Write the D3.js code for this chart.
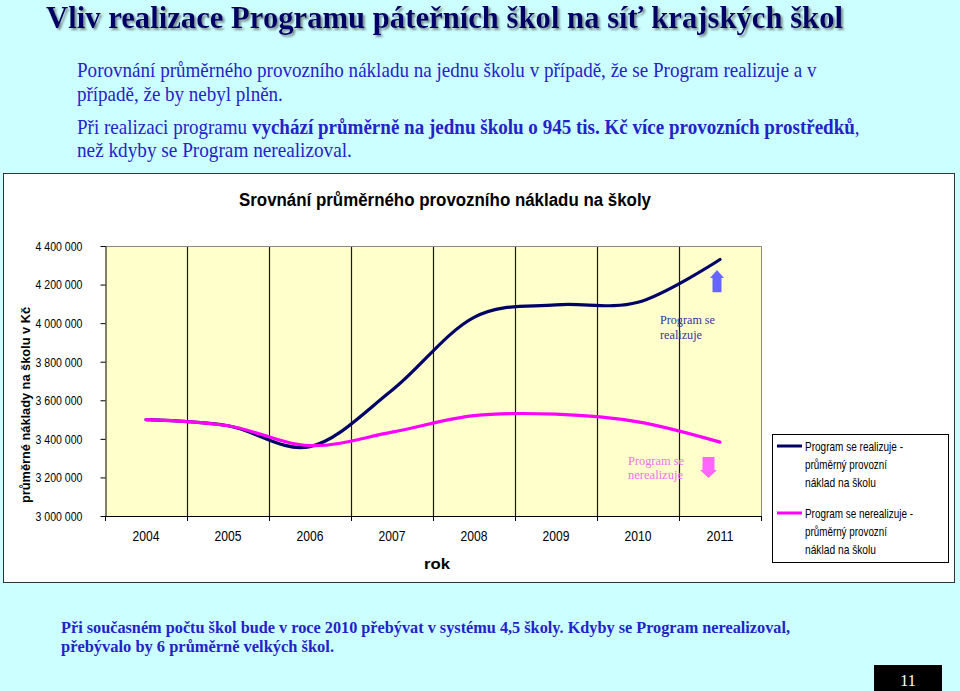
<!DOCTYPE html>
<html><head><meta charset="utf-8">
<script src="https://cdn.jsdelivr.net/npm/d3@7"></script>
<style>body{margin:0;background:#CCFFFF;} svg{display:block}</style>
</head><body><svg id="c" width="960" height="691"></svg>
<script>
// ---- data ----
const years = ["2004", "2005", "2006", "2007", "2008", "2009", "2010", "2011"];
const realizuje = [3500000, 3468000, 3360000, 3652000, 4030000, 4095000, 4108000, 4330000];
const nerealizuje = [3500000, 3468000, 3365000, 3435000, 3520000, 3528000, 3488000, 3383000];
const yTicks = [3000000, 3200000, 3400000, 3600000, 3800000, 4000000, 4200000, 4400000];
const legendLines = [
  ["Program se realizuje -", "průměrný provozní", "náklad na školu"],
  ["Program se nerealizuje -", "průměrný provozní", "náklad na školu"]
];
const seriesColors = ["#000066", "#FF00FF"];

const svg = d3.select("#c");
const defs = svg.append("defs");
const f = defs.append("filter").attr("id", "shadow").attr("x", "-5%").attr("y", "-30%").attr("width", "110%").attr("height", "160%");
f.append("feDropShadow").attr("dx", 2).attr("dy", 2).attr("stdDeviation", 0.8).attr("flood-color", "#6f8085").attr("flood-opacity", 0.9);

svg.append("rect").attr("width", 960).attr("height", 691).attr("fill", "#CCFFFF");

const serif = "'Liberation Serif', 'Times New Roman', serif";
const sans = "'Liberation Sans', Arial, sans-serif";

// ---- slide title ----
svg.append("text").attr("x", 46).attr("y", 28)
  .attr("font-family", serif).attr("font-weight", "bold").attr("font-size", 31).attr("fill", "#000066")
  .attr("textLength", 797).attr("lengthAdjust", "spacingAndGlyphs").attr("filter", "url(#shadow)")
  .text("Vliv realizace Programu páteřních škol na síť krajských škol");

// ---- paragraphs (fitted horizontally with a scale transform) ----
const pCol = "#2323C8";
function para(x, y, w, parts, size, weight) {
  const t = svg.append("text").attr("x", 0).attr("y", 0)
    .attr("font-family", serif).attr("font-size", size).attr("fill", pCol)
    .attr("font-weight", weight || "normal");
  parts.forEach(p => t.append("tspan").attr("font-weight", p[1] ? "bold" : null).text(p[0]));
  const nat = t.node().getComputedTextLength();
  t.attr("transform", `translate(${x},${y}) scale(${w / nat},1)`);
}
para(77, 77, 740, [["Porovnání průměrného provozního nákladu na jednu školu v případě, že se Program realizuje a v", 0]], 20);
para(77, 101, 206, [["případě, že by nebyl plněn.", 0]], 20);
para(77, 134, 783, [["Při realizaci programu ", 0], ["vychází průměrně na jednu školu o 945 tis. Kč více provozních prostředků", 1], [",", 0]], 20);
para(77, 157, 275, [["než kdyby se Program nerealizoval.", 0]], 20);

// ---- chart box ----
svg.append("rect").attr("x", 3.5).attr("y", 173.5).attr("width", 951).attr("height", 409)
  .attr("fill", "#ffffff").attr("stroke", "#333").attr("stroke-width", 1);

svg.append("text").attr("x", 239).attr("y", 206)
  .attr("font-family", sans).attr("font-weight", "bold").attr("font-size", 18)
  .attr("fill", "#000").attr("textLength", 412).attr("lengthAdjust", "spacingAndGlyphs")
  .text("Srovnání průměrného provozního nákladu na školy");

// ---- scales ----
const L = 105, R = 761, T = 246, B = 516;
const x = d3.scaleBand().domain(years).range([L, R]);
const y = d3.scaleLinear().domain([3000000, 4400000]).range([B, T]);

// plot area
svg.append("rect").attr("x", L).attr("y", T).attr("width", R - L).attr("height", B - T).attr("fill", "#FFFFCC");

// vertical gridlines at category boundaries
const bounds = years.map(d => x(d)).concat([R]);
svg.append("g").selectAll("line").data(bounds.slice(1, -1)).join("line")
  .attr("x1", d => d + 0.5).attr("x2", d => d + 0.5).attr("y1", T).attr("y2", B)
  .attr("stroke", "#1a1a1a").attr("stroke-width", 1.2);
// plot top & right border
svg.append("line").attr("x1", L).attr("x2", R).attr("y1", T + 0.5).attr("y2", T + 0.5).attr("stroke", "#888");
svg.append("line").attr("x1", R + 0.5).attr("x2", R + 0.5).attr("y1", T).attr("y2", B).attr("stroke", "#888");

// y axis
const yAxis = svg.append("g").attr("transform", `translate(${L + 0.5},0)`)
  .call(d3.axisLeft(y).tickValues(yTicks).tickSizeInner(5).tickSizeOuter(0).tickPadding(18)
    .tickFormat(d => d3.format(",")(d).replace(/,/g, " ")));
yAxis.select(".domain").attr("stroke", "#000");
yAxis.selectAll(".tick line").attr("stroke", "#000");
yAxis.selectAll("text").attr("font-family", sans).attr("font-size", 13.5).attr("fill", "#000")
  .attr("textLength", 47).attr("lengthAdjust", "spacingAndGlyphs");

// x axis
const xAxis = svg.append("g").attr("transform", `translate(0,${B + 0.5})`)
  .call(d3.axisBottom(x).tickSizeInner(0).tickSizeOuter(0).tickPadding(15));
xAxis.select(".domain").attr("stroke", "#000").attr("d", `M${L},0H${R}`);
xAxis.selectAll("text").attr("font-family", sans).attr("font-size", 14).attr("fill", "#000")
  .attr("textLength", 27).attr("lengthAdjust", "spacingAndGlyphs");
svg.append("g").selectAll("line").data(bounds).join("line")
  .attr("x1", d => d + 0.5).attr("x2", d => d + 0.5).attr("y1", B).attr("y2", B + 5)
  .attr("stroke", "#000");

// axis titles
svg.append("text").attr("transform", "translate(30,405) rotate(-90)").attr("text-anchor", "middle")
  .attr("font-family", sans).attr("font-weight", "bold").attr("font-size", 13.5)
  .attr("textLength", 196).attr("lengthAdjust", "spacingAndGlyphs")
  .text("průměrné náklady na školu v Kč");
svg.append("text").attr("x", 437).attr("y", 569).attr("text-anchor", "middle")
  .attr("font-family", sans).attr("font-weight", "bold").attr("font-size", 15)
  .attr("textLength", 26).attr("lengthAdjust", "spacingAndGlyphs")
  .text("rok");

// lines
const line = d3.line().x((d, i) => x(years[i]) + x.bandwidth() / 2).y(d => y(d))
  .curve(d3.curveCardinal.tension(0));
[realizuje, nerealizuje].forEach((s, i) => {
  svg.append("path").attr("d", line(s)).attr("fill", "none")
    .attr("stroke", seriesColors[i]).attr("stroke-width", 3.2)
    .attr("stroke-linejoin", "round").attr("stroke-linecap", "round");
});

// annotations
const cx11 = x("2011") + x.bandwidth() / 2;
// up arrow
{
  const ax = cx11 - 3, top = y(4275000), bot = y(4160000);
  svg.append("path").attr("fill", "#6666FF")
    .attr("d", `M${ax},${top} L${ax + 7},${top + 8} L${ax + 4.5},${top + 8} L${ax + 4.5},${bot} L${ax - 4.5},${bot} L${ax - 4.5},${top + 8} L${ax - 7},${top + 8} Z`);
}
// down arrow
{
  const ax = cx11 - 11.5, top = y(3306000), bot = y(3197000);
  svg.append("path").attr("fill", "#FF66FF")
    .attr("d", `M${ax - 6},${top} L${ax + 6},${top} L${ax + 6},${bot - 8} L${ax + 8.5},${bot - 8} L${ax},${bot} L${ax - 8.5},${bot - 8} L${ax - 6},${bot - 8} Z`);
}
function ann(xp, yp, w, txt, col) {
  svg.append("text").attr("x", xp).attr("y", yp).attr("font-family", serif).attr("font-size", 13)
    .attr("fill", col).attr("textLength", w).attr("lengthAdjust", "spacingAndGlyphs").text(txt);
}
ann(cx11 - 60, 324, 55, "Program se", "#33339A");
ann(cx11 - 60, 339, 42, "realizuje", "#33339A");
ann(cx11 - 92, 465, 56, "Program se", "#F070F0");
ann(cx11 - 92, 479, 55, "nerealizuje", "#F070F0");

// legend
svg.append("rect").attr("x", 772.5).attr("y", 434.5).attr("width", 176).attr("height", 128)
  .attr("fill", "#fff").attr("stroke", "#000");
const legW = [[98, 82, 71], [108, 82, 71]];
const legY = [446, 513];
legendLines.forEach((lines, i) => {
  svg.append("line").attr("x1", 777).attr("x2", 802).attr("y1", legY[i]).attr("y2", legY[i])
    .attr("stroke", seriesColors[i]).attr("stroke-width", 3);
  lines.forEach((t, j) => {
    svg.append("text").attr("x", 805).attr("y", legY[i] + 4.5 + j * 18)
      .attr("font-family", sans).attr("font-size", 13).attr("fill", "#000")
      .attr("textLength", legW[i][j]).attr("lengthAdjust", "spacingAndGlyphs").text(t);
  });
});

// bottom text
svg.append("text").attr("x", 61).attr("y", 633).attr("font-family", serif).attr("font-weight", "bold")
  .attr("font-size", 17).attr("fill", pCol).attr("textLength", 729).attr("lengthAdjust", "spacingAndGlyphs")
  .text("Při současném počtu škol bude v roce 2010 přebývat v systému 4,5 školy. Kdyby se Program nerealizoval,");
svg.append("text").attr("x", 61).attr("y", 652).attr("font-family", serif).attr("font-weight", "bold")
  .attr("font-size", 17).attr("fill", pCol).attr("textLength", 273).attr("lengthAdjust", "spacingAndGlyphs")
  .text("přebývalo by 6 průměrně velkých škol.");

// page number
svg.append("rect").attr("x", 874).attr("y", 665).attr("width", 68).attr("height", 26).attr("fill", "#000");
svg.append("text").attr("x", 908).attr("y", 686).attr("text-anchor", "middle")
  .attr("font-family", serif).attr("font-size", 16).attr("fill", "#fff").text("11");
</script></body></html>
